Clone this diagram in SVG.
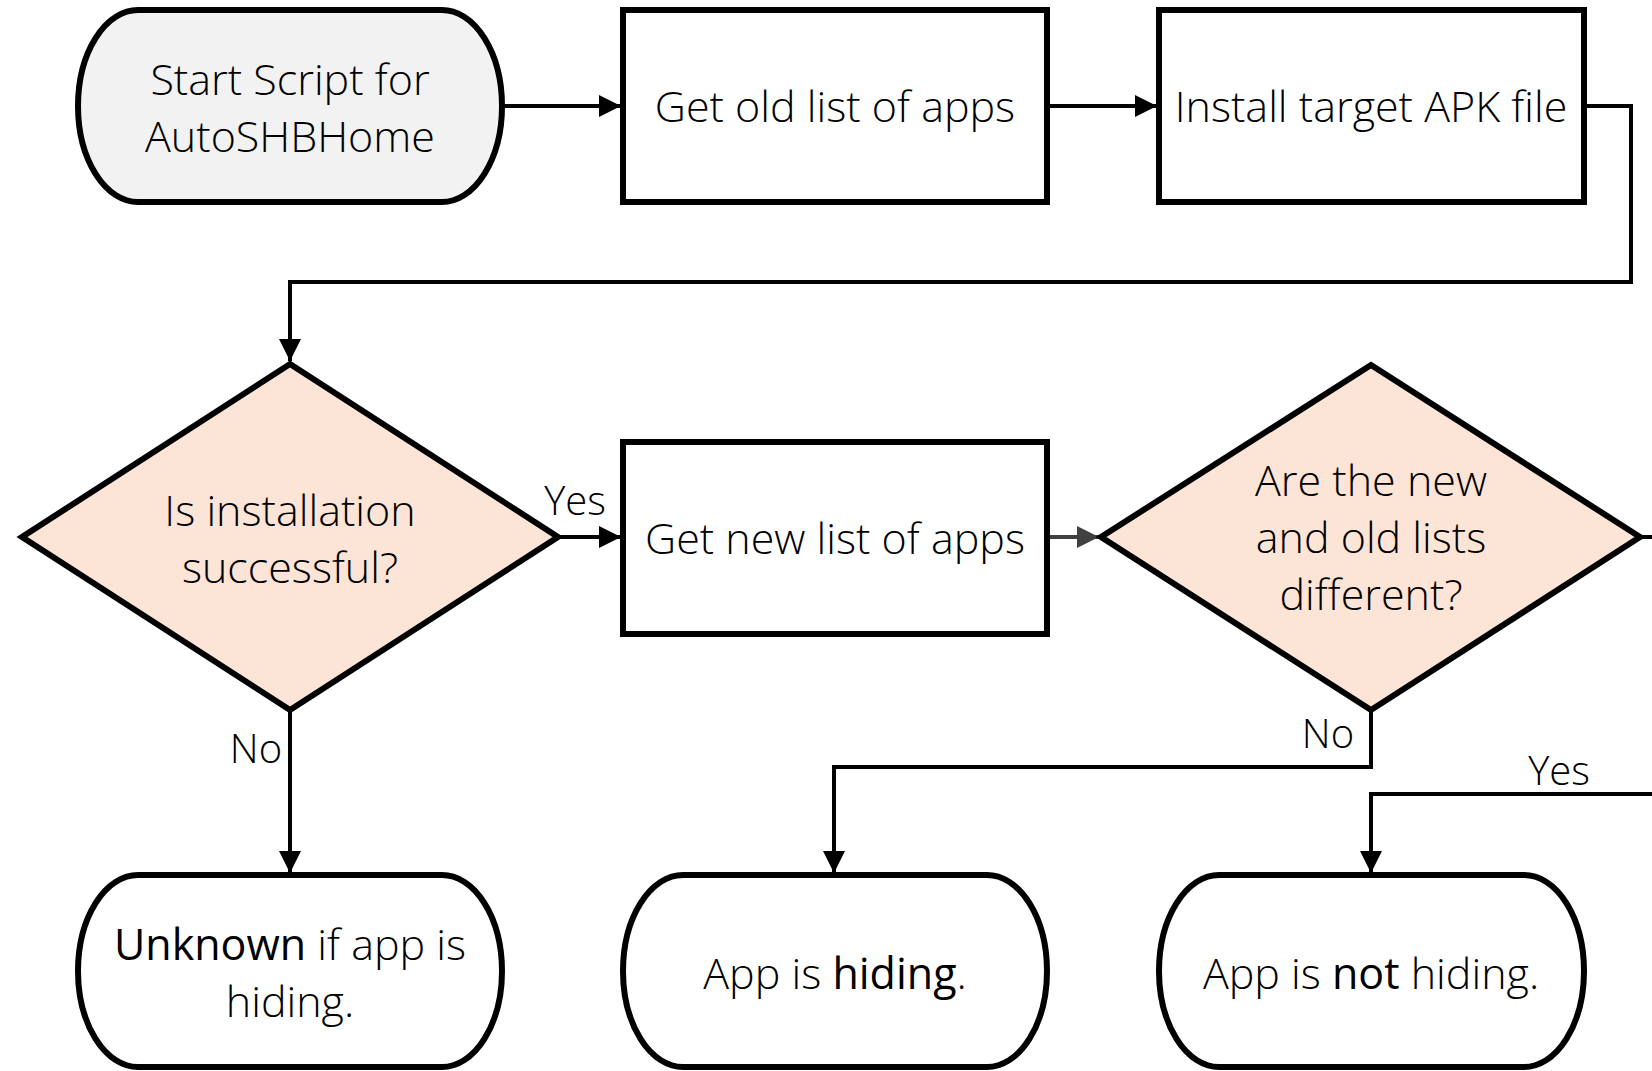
<svg xmlns="http://www.w3.org/2000/svg" width="1652" height="1071" viewBox="0 0 1652 1071">
<style>
.shape{stroke:#000;stroke-width:6;}
.proc{fill:#fff;}
.term{fill:#fff;}
.start{fill:#f2f2f2;}
.dec{fill:#fce4d6;}
.t{font-family:"Open Sans","Liberation Sans",sans-serif;font-weight:300;font-size:43px;fill:#000;text-anchor:middle;}
.b{font-weight:500;}
.lbl{font-family:"Open Sans","Liberation Sans",sans-serif;font-weight:300;font-size:40px;fill:#000;text-anchor:middle;}
.c{fill:none;stroke:#000;stroke-width:4;marker-end:url(#ah);}
.cg{fill:none;stroke:#404040;stroke-width:4;marker-end:url(#ahg);}
</style>
<defs>
<marker id="ah" viewBox="0 0 10 10" refX="10" refY="5" markerUnits="userSpaceOnUse" markerWidth="22" markerHeight="22" orient="auto"><path d="M0,0 L10,5 L0,10 z" fill="#000"/></marker>
<marker id="ahg" viewBox="0 0 10 10" refX="10" refY="5" markerUnits="userSpaceOnUse" markerWidth="22" markerHeight="22" orient="auto"><path d="M0,0 L10,5 L0,10 z" fill="#404040"/></marker>
</defs>
<rect width="1652" height="1071" fill="#fff"/>
<g id="connectors">
<path class="c" d="M502,106 H621"/>
<path class="c" d="M1047,106 H1157"/>
<path class="c" d="M1584,106 H1631 V282 H290 V361"/>
<path class="c" d="M558,537 H621"/>
<path class="cg" d="M1047,537 H1099"/>
<path class="c" d="M290,710 V873"/>
<path class="c" d="M1371,710 V767 H834 V873"/>
<path class="c" d="M1640,537 H1670 V794 H1371 V873"/>
<text class="lbl" x="575" y="515">Yes</text>
<text class="lbl" x="256" y="763">No</text>
<text class="lbl" x="1328" y="748">No</text>
<text class="lbl" x="1559" y="785">Yes</text>
</g>
<g id="start">
<rect class="shape start" x="78" y="10" width="424" height="192" rx="60" ry="96"/>
<text class="t" x="290" y="95">Start Script for</text>
<text class="t" x="290" y="152">AutoSHBHome</text>
</g>
<g id="get-old">
<rect class="shape proc" x="623" y="10" width="424" height="192"/>
<text class="t" x="835" y="122">Get old list of apps</text>
</g>
<g id="install">
<rect class="shape proc" x="1159" y="10" width="425" height="192"/>
<text class="t" x="1371" y="122">Install target APK file</text>
</g>
<g id="dec-install">
<polygon class="shape dec" points="290,364 558,537 290,710 22,537"/>
<text class="t" x="290" y="526">Is installation</text>
<text class="t" x="290" y="583">successful?</text>
</g>
<g id="get-new">
<rect class="shape proc" x="623" y="442" width="424" height="192"/>
<text class="t" x="835" y="554">Get new list of apps</text>
</g>
<g id="dec-diff">
<polygon class="shape dec" points="1371,365 1640,537 1371,710 1101,537"/>
<text class="t" x="1371" y="496">Are the new</text>
<text class="t" x="1371" y="553">and old lists</text>
<text class="t" x="1371" y="610">different?</text>
</g>
<g id="end-unknown">
<rect class="shape term" x="78" y="875" width="424" height="192" rx="60" ry="96"/>
<text class="t" x="290" y="960"><tspan class="b">Unknown</tspan> if app is</text>
<text class="t" x="290" y="1017">hiding.</text>
</g>
<g id="end-hiding">
<rect class="shape term" x="623" y="875" width="424" height="192" rx="60" ry="96"/>
<text class="t" x="835" y="989">App is <tspan class="b">hiding</tspan>.</text>
</g>
<g id="end-not-hiding">
<rect class="shape term" x="1159" y="875" width="425" height="192" rx="60" ry="96"/>
<text class="t" x="1371" y="989">App is <tspan class="b">not</tspan> hiding.</text>
</g>
</svg>
